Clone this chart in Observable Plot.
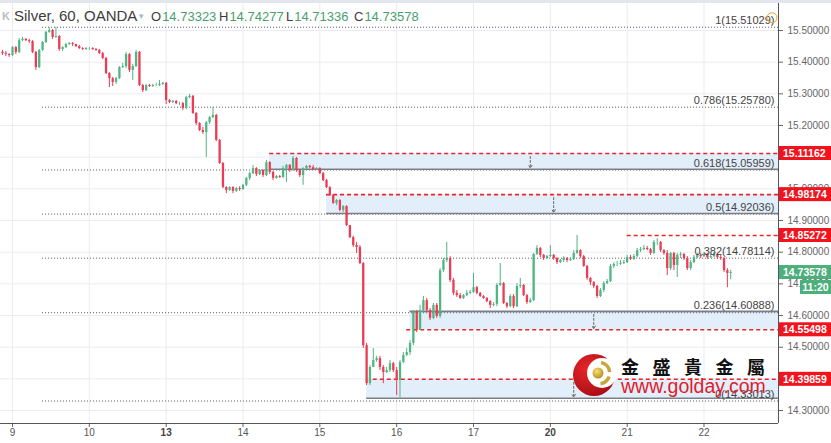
<!DOCTYPE html>
<html><head><meta charset="utf-8">
<script src="https://cdn.jsdelivr.net/npm/d3@7"></script>
<script src="https://cdn.jsdelivr.net/npm/@observablehq/plot@0.6"></script>
<style>
html,body{margin:0;padding:0;background:#fff;}
#wrap{position:relative;width:831px;height:443px;overflow:hidden;font-family:"Liberation Sans",Arial,sans-serif;background:#fff;}
#wrap svg{display:block;}
#hdr{position:absolute;left:0;top:0;width:831px;height:30px;color:#3c3c3c;pointer-events:none;}
#hdr span{position:absolute;top:9px;white-space:nowrap;font-size:13px;}
#hdr .v{color:#4a9e6e;position:static;margin-left:1px;}
#hdr .t{font-size:15px;top:7px;}
#topbar{position:absolute;left:0;top:0;width:831px;height:3px;background:#e3e6ec;}
</style></head><body><div id="wrap"><div id="topbar"></div></div>
<script>
// ---- candle data (hourly, index 0..218) ----
const firstOpen = 15.431;
const closes = [
15.427,15.424,15.421,15.446,15.431,15.468,15.472,15.468,15.465,15.431,
15.383,15.437,15.462,15.494,15.500,15.478,15.481,15.440,15.446,15.456,
15.459,15.456,15.449,15.443,15.440,15.443,15.443,15.440,15.437,15.427,
15.412,15.364,15.348,15.336,15.348,15.383,15.386,15.424,15.374,15.386,
15.431,15.326,15.310,15.326,15.323,15.326,15.326,15.330,15.333,15.279,
15.273,15.276,15.269,15.269,15.254,15.288,15.292,15.238,15.206,15.184,
15.178,15.209,15.225,15.232,15.153,15.080,15.004,14.995,15.004,14.992,
15.001,14.998,15.011,15.033,15.048,15.064,15.045,15.058,15.042,15.083,
15.052,15.033,15.039,15.036,15.064,15.074,15.058,15.096,15.058,15.042,
15.064,15.071,15.067,15.061,15.064,15.048,15.026,15.004,14.979,14.954,
14.963,14.932,14.944,14.884,14.846,14.821,14.815,14.764,14.505,14.385,
14.436,14.458,14.464,14.436,14.420,14.426,14.448,14.426,14.395,14.452,
14.474,14.483,14.512,14.610,14.553,14.616,14.647,14.616,14.591,14.632,
14.597,14.742,14.774,14.780,14.711,14.670,14.663,14.654,14.663,14.670,
14.673,14.688,14.670,14.660,14.654,14.644,14.632,14.635,14.695,14.701,
14.638,14.628,14.660,14.628,14.692,14.695,14.663,14.641,14.647,14.793,
14.812,14.790,14.780,14.786,14.790,14.780,14.767,14.774,14.780,14.774,
14.777,14.796,14.805,14.786,14.755,14.717,14.704,14.692,14.660,14.679,
14.701,14.707,14.755,14.761,14.761,14.764,14.767,14.783,14.777,14.786,
14.805,14.808,14.812,14.808,14.796,14.831,14.831,14.805,14.796,14.748,
14.796,14.758,14.790,14.793,14.780,14.748,14.767,14.783,14.790,14.786,
14.793,14.783,14.786,14.793,14.783,14.780,14.742,14.733,14.736
];
const highs = [
15.437,15.434,15.427,15.449,15.449,15.475,15.478,15.475,15.472,15.468,
15.434,15.440,15.465,15.497,15.509,15.503,15.510,15.484,15.449,15.459,
15.462,15.462,15.456,15.453,15.446,15.446,15.446,15.446,15.443,15.440,
15.431,15.415,15.367,15.352,15.352,15.386,15.396,15.431,15.427,15.393,
15.437,15.434,15.330,15.330,15.330,15.330,15.333,15.342,15.336,15.336,
15.282,15.279,15.279,15.273,15.273,15.292,15.298,15.295,15.241,15.209,
15.194,15.213,15.228,15.257,15.235,15.156,15.083,15.007,15.007,15.007,
15.004,15.007,15.014,15.036,15.052,15.074,15.067,15.061,15.061,15.090,
15.086,15.055,15.042,15.042,15.071,15.077,15.077,15.102,15.099,15.061,
15.067,15.074,15.074,15.074,15.067,15.067,15.052,15.030,15.007,14.982,
14.966,14.966,14.947,14.947,14.884,14.850,14.831,14.821,14.767,14.512,
14.442,14.496,14.471,14.471,14.442,14.436,14.458,14.452,14.436,14.458,
14.483,14.496,14.521,14.616,14.616,14.632,14.660,14.654,14.622,14.638,
14.638,14.748,14.780,14.831,14.786,14.717,14.679,14.670,14.666,14.679,
14.679,14.733,14.692,14.673,14.663,14.657,14.647,14.641,14.701,14.764,
14.704,14.641,14.666,14.666,14.701,14.717,14.698,14.666,14.654,14.796,
14.821,14.815,14.793,14.790,14.821,14.793,14.783,14.777,14.786,14.783,
14.783,14.805,14.853,14.808,14.790,14.758,14.720,14.707,14.695,14.685,
14.707,14.714,14.761,14.767,14.771,14.774,14.774,14.790,14.790,14.793,
14.812,14.815,14.821,14.818,14.812,14.837,14.843,14.834,14.808,14.805,
14.799,14.799,14.796,14.799,14.796,14.786,14.774,14.790,14.796,14.796,
14.799,14.796,14.793,14.799,14.796,14.790,14.783,14.748,14.743
];
const lows = [
15.421,15.418,15.415,15.418,15.424,15.427,15.465,15.465,15.459,15.427,
15.374,15.380,15.434,15.459,15.491,15.472,15.475,15.434,15.434,15.443,
15.453,15.449,15.446,15.440,15.437,15.437,15.437,15.437,15.434,15.424,
15.408,15.361,15.320,15.323,15.330,15.345,15.380,15.380,15.367,15.342,
15.383,15.323,15.304,15.307,15.320,15.320,15.323,15.323,15.326,15.266,
15.269,15.269,15.266,15.263,15.247,15.250,15.285,15.235,15.200,15.181,
15.172,15.099,15.203,15.222,15.149,15.077,15.001,14.985,14.992,14.985,
14.988,14.992,14.995,15.007,15.026,15.045,15.039,15.042,15.036,15.039,
15.045,15.026,15.030,15.033,15.033,15.020,15.052,15.055,15.052,15.036,
15.011,15.061,15.064,15.058,15.058,15.045,15.023,15.001,14.976,14.951,
14.947,14.928,14.925,14.881,14.843,14.815,14.796,14.761,14.496,14.379,
14.379,14.436,14.452,14.426,14.385,14.417,14.420,14.420,14.347,14.341,
14.448,14.471,14.474,14.505,14.546,14.553,14.610,14.610,14.584,14.587,
14.591,14.591,14.736,14.767,14.704,14.663,14.657,14.651,14.651,14.660,
14.666,14.670,14.666,14.657,14.651,14.641,14.622,14.628,14.628,14.692,
14.635,14.622,14.625,14.622,14.625,14.685,14.660,14.635,14.638,14.644,
14.790,14.783,14.774,14.777,14.783,14.774,14.761,14.764,14.767,14.767,
14.770,14.774,14.793,14.780,14.752,14.711,14.695,14.685,14.654,14.657,
14.673,14.698,14.704,14.748,14.755,14.758,14.761,14.764,14.774,14.774,
14.783,14.799,14.805,14.805,14.790,14.793,14.821,14.799,14.790,14.726,
14.742,14.742,14.720,14.780,14.774,14.742,14.742,14.764,14.780,14.780,
14.783,14.777,14.780,14.783,14.777,14.774,14.736,14.688,14.713
];

// ---- axes ----
const dayTickIndex = [3, 26, 49, 72, 95, 118, 141, 164, 187, 210];
const dayTickLabels = ["9", "10", "13", "14", "15", "16", "17", "20", "21", "22"];
const boldDayLabels = ["13", "20"];
const priceTicks = [14.3, 14.4, 14.5, 14.6, 14.7, 14.8, 14.9, 15.0, 15.1, 15.2, 15.3, 15.4, 15.5];

// ---- fibonacci retracement ----
const fibRatios = [1, 0.786, 0.618, 0.5, 0.382, 0.236, 0];
const fibPrices = [15.51029, 15.25780, 15.05959, 14.92036, 14.78114, 14.60888, 14.33013];
const fibStartIndex = 12;

// ---- zones (shaded boxes) ----
const zoneTop    = [15.11162, 14.98174, 14.613, 14.39859];
const zoneBottom = [15.062, 14.922, 14.55498, 14.339];
const zoneStart  = [80, 97, 122, 109];
const zoneArrow  = [158, 165, 177, 171];

// ---- horizontal levels ----
const redLevels = [15.11162, 14.98174, 14.85272, 14.55498, 14.39859];
const redStart  = [80, 97, 187, 121, 111];
const grayLevels = [15.062, 14.922, 14.613, 14.339];
const grayStart  = [80, 97, 122, 109];

// ---- header / last price ----
const symbolTitle = "Silver, 60, OANDA";
const ohlcLetters = ["O", "H", "L", "C"];
const ohlcValues = ["14.73323", "14.74277", "14.71336", "14.73578"];
const lastPrice = 14.73578;
const countdown = "11:20";

// ---- build tables ----
const candles = closes.map((c, i) => {
  const o = i === 0 ? firstOpen : closes[i - 1];
  return {k: i, open: o, close: c, high: Math.max(highs[i], o, c), low: Math.min(lows[i], o, c)};
});
const GREEN = "#4fb583", RED = "#ec3b52";
const dayTicks = dayTickIndex.map((k, i) => ({k, label: dayTickLabels[i], bold: boldDayLabels.includes(dayTickLabels[i])}));
const fibs = fibRatios.map((r, i) => ({ratio: r, price: fibPrices[i]}));
const zones = zoneTop.map((t, i) => ({top: t, bottom: zoneBottom[i], start: zoneStart[i], arrow: zoneArrow[i]}));
const reds = redLevels.map((p, i) => ({price: p, start: redStart[i]}));
const grays = grayLevels.map((p, i) => ({price: p, start: grayStart[i]}));

const xDomain = [-0.593, 232.3];
const yDomain = [14.2591, 15.5947];
const xEnd = xDomain[1];

const chart = Plot.plot({
  width: 831, height: 443,
  marginLeft: 0, marginRight: 53, marginTop: 0, marginBottom: 20,
  x: {domain: xDomain, axis: null},
  y: {domain: yDomain, axis: null},
  style: {fontFamily: "'Liberation Sans', Arial, sans-serif", fontSize: "10px", background: "#fff", overflow: "visible"},
  marks: [
    Plot.gridX({ticks: dayTickIndex, stroke: "#e9ecf2", strokeOpacity: 1}),
    Plot.gridY({ticks: priceTicks, stroke: "#e9ecf2", strokeOpacity: 1}),
    Plot.rect(zones, {x1: "start", x2: xEnd, y1: "bottom", y2: "top", fill: "#e2eefa"}),
    Plot.ruleY(fibs, {y: "price", x1: fibStartIndex, x2: xEnd, stroke: "#555", strokeWidth: 1, strokeDasharray: "1,2"}),
    Plot.ruleY(grays, {y: "price", x1: "start", x2: xEnd, stroke: "#7b7e86", strokeWidth: 1.6}),
    Plot.ruleY(reds, {y: "price", x1: "start", x2: xEnd, stroke: "#e8252b", strokeWidth: 1.6, strokeDasharray: "4,3"}),
    Plot.arrow(zones, {x1: "arrow", x2: "arrow", y1: "top", y2: "bottom", stroke: "#666", strokeWidth: 1, strokeDasharray: "2,2", headLength: 5, insetStart: 3, insetEnd: 1}),
    Plot.ruleX(candles, {x: "k", y1: "low", y2: "high", stroke: d => d.close >= d.open ? GREEN : RED, strokeWidth: 1}),
    Plot.ruleX(candles, {x: "k", y1: "open", y2: "close", stroke: d => d.close >= d.open ? GREEN : RED, strokeWidth: 2.3}),
    Plot.text(fibs, {x: xEnd, y: "price", text: d => `${d.ratio}(${d.price.toFixed(5)})`, textAnchor: "end", dx: -4, dy: -7, fontSize: 11, fill: "#444"}),
    Plot.axisY({anchor: "right", ticks: priceTicks, tickFormat: d => d.toFixed(5), tickSize: 4, tickPadding: 5, fontSize: 10, label: null, color: "#666"}),
    Plot.axisX({ticks: dayTickIndex, tickFormat: () => "", tickSize: 4, label: null, color: "#666"}),
    Plot.text(dayTicks.filter(d => !d.bold), {x: "k", text: "label", frameAnchor: "bottom", dy: 12, fontSize: 10, fill: "#555"}),
    Plot.text(dayTicks.filter(d => d.bold), {x: "k", text: "label", frameAnchor: "bottom", dy: 12, fontSize: 10, fontWeight: "bold", fill: "#444"}),
    Plot.ruleX([xEnd], {stroke: "#555", strokeWidth: 1}),
    Plot.ruleY([yDomain[0]], {stroke: "#555", strokeWidth: 1})
  ]
});

const wrap = document.getElementById("wrap");
wrap.insertBefore(chart, wrap.firstChild);

// price tags on the right axis, positioned with the plot's own y scale
const ys = chart.scale("y");
const svg = d3.select(chart);
const tags = svg.append("g").attr("text-anchor", "start");
const axisX = 779;
redLevels.forEach(p => {
  const y = ys.apply(p);
  tags.append("rect").attr("x", axisX).attr("y", y - 7).attr("width", 52).attr("height", 14).attr("fill", "#f2131d");
  tags.append("text").attr("x", axisX + 4).attr("y", y + 3.8).attr("fill", "#fff").attr("font-size", 10.5).attr("font-weight", "bold").text(p.toFixed(5));
});
{
  const y = ys.apply(lastPrice);
  tags.append("rect").attr("x", axisX).attr("y", y - 7).attr("width", 52).attr("height", 14).attr("fill", "#4daf7c");
  tags.append("text").attr("x", axisX + 4).attr("y", y + 3.8).attr("fill", "#fff").attr("font-size", 10.5).attr("font-weight", "bold").text(lastPrice.toFixed(5));
  tags.append("rect").attr("x", 800).attr("y", y + 8).attr("width", 31).attr("height", 14).attr("fill", "#4daf7c");
  tags.append("text").attr("x", 815.5).attr("y", y + 18.8).attr("text-anchor", "middle").attr("fill", "#fff").attr("font-size", 10.5).attr("font-weight", "bold").text(countdown);
}
// orange handle on the 1.0 fib label
{
  const y = ys.apply(fibPrices[0]);
  tags.append("circle").attr("cx", 772).attr("cy", y - 9).attr("r", 5).attr("fill", "none").attr("stroke", "#f0a030").attr("stroke-width", 1);
}

// watermark logo
const wm = svg.append("g").attr("text-anchor", "start");
const defs = svg.append("defs");
const rg = defs.append("radialGradient").attr("id", "ball").attr("cx", "40%").attr("cy", "35%").attr("r", "65%");
rg.append("stop").attr("offset", "0%").attr("stop-color", "#f6e27a");
rg.append("stop").attr("offset", "100%").attr("stop-color", "#b8901c");
const rr = defs.append("radialGradient").attr("id", "red").attr("cx", "35%").attr("cy", "35%").attr("r", "70%");
rr.append("stop").attr("offset", "0%").attr("stop-color", "#e8262c");
rr.append("stop").attr("offset", "100%").attr("stop-color", "#a80d14");
wm.append("circle").attr("cx", 594).attr("cy", 375).attr("r", 21).attr("fill", "url(#red)");
wm.append("circle").attr("cx", 602).attr("cy", 373).attr("r", 15).attr("fill", "#fff");
const arc = d3.arc();
wm.append("path").attr("transform", "translate(599,373)").attr("fill", "#c9a53a")
  .attr("d", arc({innerRadius: 9, outerRadius: 12.5, startAngle: 0.2, endAngle: 1.5}));
wm.append("path").attr("transform", "translate(599,373)").attr("fill", "#c9a53a")
  .attr("d", arc({innerRadius: 9, outerRadius: 12.5, startAngle: 1.9, endAngle: 3.0}));
wm.append("circle").attr("cx", 598).attr("cy", 373).attr("r", 5.5).attr("fill", "url(#ball)");
wm.append("text").attr("x", 621).attr("y", 374).attr("font-family", "'Noto Sans CJK TC','Noto Sans CJK SC',sans-serif")
  .attr("font-size", 18).attr("font-weight", "bold").attr("letter-spacing", "13.5px").attr("fill", "#111").text("金盛貴金屬");
wm.append("text").attr("x", 621).attr("y", 393).attr("font-family", "'Liberation Sans',Arial,sans-serif")
  .attr("font-size", 19.5).attr("fill", "#e0202a").text("www.golday.com");

// header
const hdr = document.createElement("div");
hdr.id = "hdr";
const xs = [151, 219, 286, 354];
let html = `<span style="left:2px;top:10px;color:#b9bcc4;font-size:11px;font-weight:bold">K</span>`;
html += `<span class="t" style="left:14px">${symbolTitle}</span><span style="left:139px;color:#b0b3ba;font-size:9px;top:11px">▾</span>`;
ohlcLetters.forEach((l, i) => { html += `<span style="left:${xs[i]}px">${l}<span class="v">${ohlcValues[i]}</span></span>`; });
hdr.innerHTML = html;
wrap.appendChild(hdr);
</script>
</body></html>
